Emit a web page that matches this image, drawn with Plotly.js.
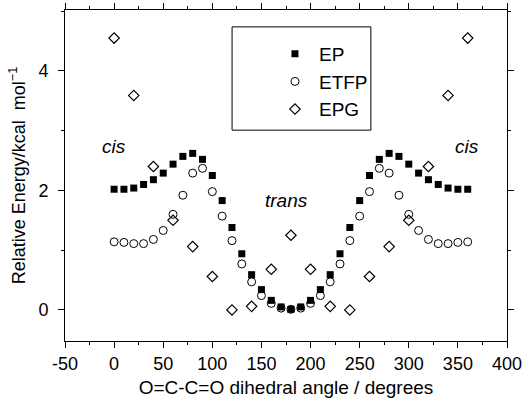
<!DOCTYPE html>
<html>
<head>
<meta charset="utf-8">
<script src="https://cdn.plot.ly/plotly-3.0.1.min.js"></script>
<style>html,body{margin:0;padding:0;background:#fff;}#plot{width:528px;height:403px;}</style>
</head>
<body>
<div id="plot"></div>
<script>
// Dihedral angles (degrees)
var angle10 = [0,10,20,30,40,50,60,70,80,90,100,110,120,130,140,150,160,170,180,
               190,200,210,220,230,240,250,260,270,280,290,300,310,320,330,340,350,360];
var angle20 = [0,20,40,60,80,100,120,140,160,180,200,220,240,260,280,300,320,340,360];

// Relative energies (kcal/mol)
var EP   = [2.02,2.02,2.04,2.10,2.18,2.29,2.44,2.57,2.62,2.52,2.25,1.83,1.38,0.94,0.59,0.34,0.16,0.05,0.01,
            0.05,0.16,0.34,0.59,0.94,1.38,1.83,2.25,2.52,2.62,2.57,2.44,2.29,2.18,2.10,2.04,2.02,2.02];
var ETFP = [1.14,1.13,1.11,1.11,1.18,1.33,1.60,1.92,2.29,2.37,1.98,1.57,1.16,0.77,0.47,0.24,0.11,0.03,0.01,
            0.03,0.11,0.24,0.47,0.77,1.16,1.57,1.98,2.37,2.29,1.92,1.60,1.33,1.18,1.11,1.11,1.13,1.14];
var EPG  = [4.55,3.59,2.40,1.50,1.06,0.56,0.00,0.06,0.68,1.25,0.68,0.06,0.00,0.56,1.06,1.50,2.40,3.59,4.55];

var seriesNames = ['EP','ETFP','EPG'];
var xTickVals = [-50,0,50,100,150,200,250,300,350,400];
var xTickText = ['-50','0','50','100','150','200','250','300','350','400'];
var labels = [
  {text:'cis', x:0, y:2.73},
  {text:'trans', x:176, y:1.83},
  {text:'cis', x:359, y:2.73}
];

var traces = [
  {x:angle10, y:EP, name:seriesNames[0], mode:'markers', type:'scatter',
   marker:{symbol:'square', size:7, color:'#000'}},
  {x:angle10, y:ETFP, name:seriesNames[1], mode:'markers', type:'scatter',
   marker:{symbol:'circle-open', size:8, color:'#000', line:{width:1, color:'#000'}}},
  {x:angle20, y:EPG, name:seriesNames[2], mode:'markers', type:'scatter',
   marker:{symbol:'diamond-open', size:8, color:'#000', line:{width:1.2, color:'#000'}}}
];

var fam = '"Liberation Sans", Arial, sans-serif';

var layout = {
  width:528, height:403,
  margin:{l:65, r:21, t:10, b:62},
  paper_bgcolor:'#fff', plot_bgcolor:'#fff',
  font:{family:fam, size:16, color:'#000'},
  showlegend:true,
  legend:{x:0.466, y:0.925, xanchor:'left', yanchor:'top',
          borderwidth:0, bgcolor:'rgba(0,0,0,0)',
          font:{family:fam, size:19, color:'#000'},
          itemwidth:38, tracegroupgap:0},
  shapes:[{type:'rect', xref:'paper', yref:'paper', x0:0.378, x1:0.692, y0:0.637, y1:0.949,
           line:{color:'#000', width:1}, fillcolor:'rgba(0,0,0,0)', layer:'below'}],
  xaxis:{range:[-50,400], tickmode:'array', tickvals:xTickVals, ticktext:xTickText,
         ticks:'outside', ticklen:6, tickwidth:1,
         tickcolor:'#000', showline:true, linecolor:'#000', linewidth:1, mirror:'ticks',
         showgrid:false, zeroline:false,
         minor:{dtick:25, tick0:0, ticks:'outside', ticklen:3, tickcolor:'#000'},
         tickfont:{family:fam, size:18, color:'#000'},
         title:{text:'O=C-C=O dihedral angle / degrees', font:{family:fam, size:19, color:'#000'}, standoff:8}},
  yaxis:{range:[-0.52,5.02], dtick:2, tick0:0, ticks:'outside', ticklen:6, tickwidth:1,
         tickcolor:'#000', showline:true, linecolor:'#000', linewidth:1, mirror:'ticks',
         showgrid:false, zeroline:false, ticklabelstandoff:6,
         minor:{dtick:1, tick0:0, ticks:'outside', ticklen:3, tickcolor:'#000'},
         tickfont:{family:fam, size:18, color:'#000'},
         title:{text:'Relative Energy/kcal  mol<sup>−1</sup>', font:{family:fam, size:18, color:'#000'}, standoff:8}},
  annotations: labels.map(function(l){
    return {x:l.x, y:l.y, xref:'x', yref:'y', text:'<i>'+l.text+'</i>', showarrow:false,
            font:{family:fam, size:19, color:'#000'}};
  })
};

Plotly.newPlot('plot', traces, layout, {displayModeBar:false, staticPlot:true});
</script>
</body>
</html>
